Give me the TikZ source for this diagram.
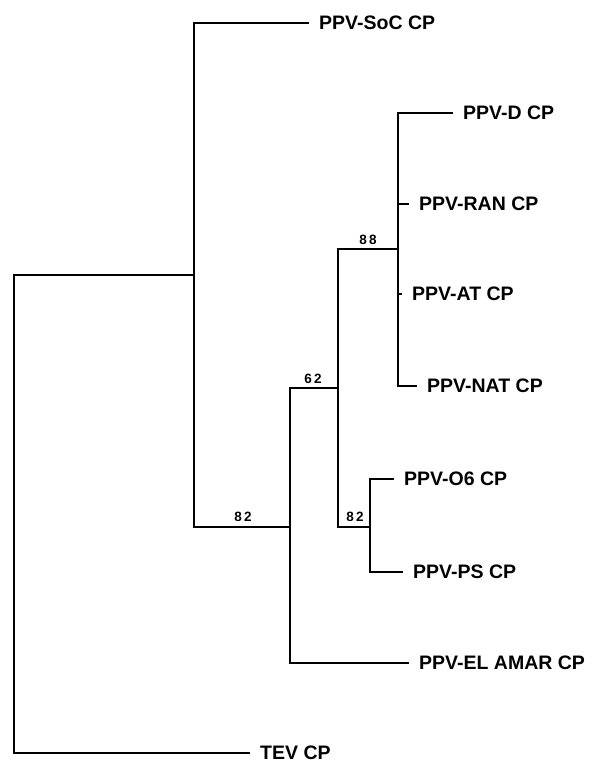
\documentclass[tikz,border=0pt]{standalone}
\usepackage{fontspec}
\setmainfont{Liberation Sans}
\newfontfamily\supportfont[LetterSpace=18]{Liberation Sans}
\newcommand{\taxon}[3][]{\node (#2) [taxon, #1] {#3};}
\newcommand{\support}[3][]{\node (#2) [support, #1] {#3};}
\tikzstyle{taxon} = [anchor=west, inner xsep=11pt, font=\fontsize{19.5}{20}\selectfont\bfseries]
\tikzstyle{support} = [anchor=south, inner sep=1pt, font=\fontsize{13.5}{14}\supportfont\bfseries]
\tikzstyle{branch} = [line width=2.7pt, line join=miter, line cap=rect]

\begin{document}
\begin{tikzpicture}[x=1pt, y=-1pt]
	\useasboundingbox (0,0) rectangle (593,764);

	\coordinate (root) at (14,514);
	\coordinate (n1) at (194,275);
	\coordinate (n82a) at (290,527);
	\coordinate (n62) at (338,388);
	\coordinate (n88) at (398,249);
	\coordinate (n82b) at (370,527);

	\taxon[at={(308,23)}]{soc}{PPV-SoC CP}
	\taxon[at={(452,113)}]{d}{PPV-D CP}
	\taxon[at={(408,204)}]{ran}{PPV-RAN CP}
	\taxon[at={(401,294)}]{at}{PPV-AT CP}
	\taxon[at={(416,386)}]{nat}{PPV-NAT CP}
	\taxon[at={(393,479)}]{o6}{PPV-O6 CP}
	\taxon[at={(402,572)}]{ps}{PPV-PS CP}
	\taxon[at={(408,663)}]{elamar}{PPV-EL AMAR CP}
	\taxon[at={(249,753)}]{tev}{TEV CP}

	\support[at={(368,246)}]{s88}{88}
	\support[at={(313,385)}]{s62}{62}
	\support[at={(243,523)}]{s82a}{82}
	\support[at={(355,523)}]{s82b}{82}

	\draw[branch] (root) |- (n1);
	\draw[branch] (root) |- (tev);
	\draw[branch] (n1) |- (soc);
	\draw[branch] (n1) |- (n82a);
	\draw[branch] (n82a) |- (n62);
	\draw[branch] (n82a) |- (elamar);
	\draw[branch] (n62) |- (n88);
	\draw[branch] (n62) |- (n82b);
	\draw[branch] (n88) |- (d);
	\draw[branch] (n88) |- (ran);
	\draw[branch] (n88) |- (at);
	\draw[branch] (n88) |- (nat);
	\draw[branch] (n82b) |- (o6);
	\draw[branch] (n82b) |- (ps);
\end{tikzpicture}
\end{document}
